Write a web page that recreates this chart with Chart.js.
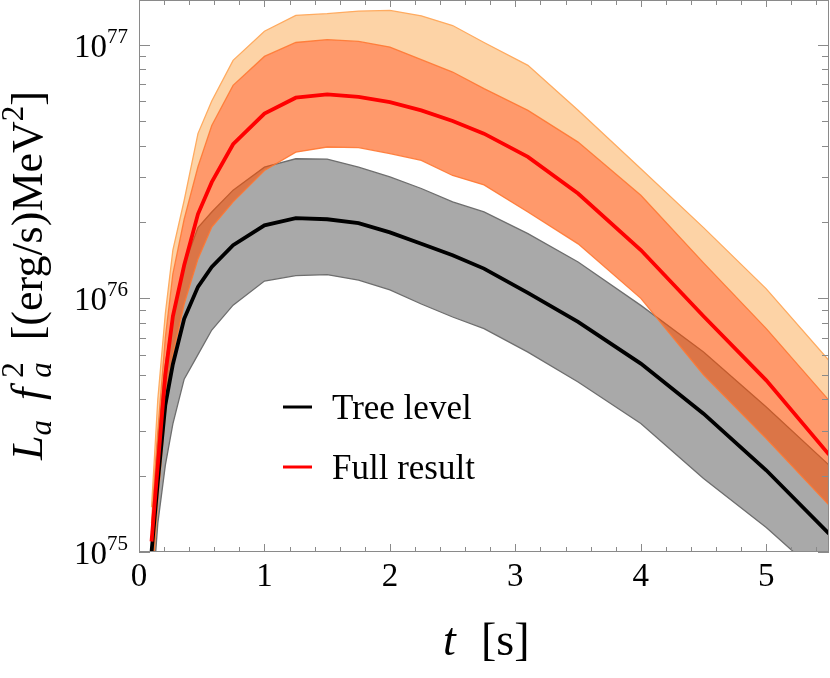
<!DOCTYPE html>
<html><head><meta charset="utf-8">
<script src="https://cdn.jsdelivr.net/npm/chart.js@4.4.1/dist/chart.umd.min.js"></script>
<style>html,body{margin:0;padding:0;background:#fff;overflow:hidden}canvas{display:block}</style>
</head><body>
<canvas id="c" width="830" height="678"></canvas>
<script>
// ---- data ----
const tSec = [0.1,0.15,0.21,0.27,0.36,0.47,0.58,0.75,1,1.25,1.5,1.75,2,2.25,2.5,2.75,3.1,3.5,4,4.5,5,5.5];
const treeLevel = [1.0e75,1.9e75,3.8e75,5.5e75,8.3e75,1.11e76,1.33e76,1.62e76,1.94e76,2.07e76,2.05e76,1.98e76,1.82e76,1.64e76,1.48e76,1.31e76,1.05e76,8.07e75,5.53e75,3.51e75,2.10e75,1.18e75];
const treeLow = [0.6e75,1.3e75,2.2e75,3.2e75,4.8e75,6.0e75,7.5e75,9.4e75,1.17e76,1.23e76,1.24e76,1.18e76,1.08e76,9.5e75,8.44e75,7.6e75,6.14e75,4.68e75,3.21e75,1.95e75,1.25e75,0.75e75];
const treeHigh = [1.2e75,2.8e75,5.5e75,8.5e75,1.35e76,1.9e76,2.19e76,2.67e76,3.29e76,3.55e76,3.54e76,3.29e76,3.01e76,2.71e76,2.40e76,2.19e76,1.80e76,1.39e76,9.38e75,6.14e75,3.73e75,2.20e75];
const fullResult = [1.1e75,2.2e75,5.0e75,8.5e75,1.35e76,2.15e76,2.87e76,4.05e76,5.35e76,6.18e76,6.37e76,6.22e76,5.94e76,5.51e76,5.0e76,4.46e76,3.61e76,2.59e76,1.55e76,8.5e75,4.75e75,2.42e75];
const fullLow = [0.7e75,1.6e75,3.5e75,6.0e75,9.5e75,1.43e76,1.91e76,2.40e76,3.19e76,3.77e76,3.95e76,3.93e76,3.72e76,3.5e76,3.05e76,2.8e76,2.19e76,1.64e76,1.0e76,5.0e75,2.8e75,1.53e75];
const fullHigh = [1.3e75,3.0e75,7.0e75,1.25e76,2.05e76,3.3e76,4.8e76,6.91e76,8.99e76,1.02e77,1.047e77,1.03e77,9.78e76,8.73e76,7.8e76,6.71e76,5.51e76,4.13e76,2.55e76,1.38e76,7.6e75,3.96e75];
const fullHighOuter = [1.5e75,4.0e75,8.7e75,1.55e76,2.43e76,4.46e76,6.0e76,8.67e76,1.13e77,1.305e77,1.325e77,1.356e77,1.365e77,1.30e77,1.19e77,1.02e77,8.29e76,5.51e76,3.24e76,1.9e76,1.09e76,5.69e75];

const seriesNames = ['Full result','Tree level'];
const xTickValues = [0,1,2,3,4,5];
const xTickLabels = ['0','1','2','3','4','5'];
const yTickValues = [1e75,1e76,1e77];
const yTickLabels = [['10','75'],['10','76'],['10','77']];

const pts = arr => arr.map((v,i)=>({x:tSec[i], y:v}));
const SERIF = '"Liberation Serif", "Times New Roman", serif';

const framePlugin = {
  id:'frame',
  afterDraw(chart){
    const {ctx, chartArea:a, scales:{x,y}} = chart;
    ctx.save();
    ctx.strokeStyle = '#8a8a8a'; ctx.lineWidth = 1;
    const line=(x1,y1,x2,y2)=>{ctx.beginPath();ctx.moveTo(x1,y1);ctx.lineTo(x2,y2);ctx.stroke();};
    ctx.strokeRect(a.left+0.5, a.top+0.5, a.right-a.left-1, a.bottom-a.top-1);
    for(let k=0;k<=30;k++){
      const v=k*0.2; if(v>x.max+1e-9) break;
      const px=Math.round(x.getPixelForValue(v))+0.5;
      const major=(k%5===0);
      line(px,a.bottom,px,a.bottom-(major?8:5));
      line(px,a.top,px,a.top+(major?7:5));
    }
    for(let n=75;n<=77;n++){
      for(let m=1;m<=9;m++){
        const v=m*Math.pow(10,n); if(v>y.max) break;
        const py=Math.round(y.getPixelForValue(v))+0.5;
        const L=(m===1)?11:7;
        line(a.left,py,a.left+L,py);
        line(a.right,py,a.right-L,py);
      }
    }
    // y tick labels (base with superscript exponent), placed by the y scale
    ctx.fillStyle='#000'; ctx.textBaseline='alphabetic';
    yTickValues.forEach((v,i)=>{
      const py=y.getPixelForValue(v);
      const [base,exp]=yTickLabels[i];
      ctx.font='21px '+SERIF; ctx.textAlign='right';
      ctx.fillText(exp, a.left-11, py-2);
      const ew=ctx.measureText(exp).width;
      ctx.font='33px '+SERIF;
      ctx.fillText(base, a.left-11-ew, py+12);
    });
    ctx.textAlign='left';
    // legend
    const ds = chart.data.datasets;
    const legendItems = [{d:ds[1], y:407}, {d:ds[0], y:467}];
    for(const it of legendItems){
      ctx.strokeStyle = it.d.borderColor; ctx.lineWidth = 3;
      line(283, it.y, 312, it.y);
      ctx.fillStyle='#000'; ctx.font = '35px '+SERIF;
      ctx.fillText(it.d.label, 332, it.y+12);
    }
    // x title
    ctx.fillStyle='#000';
    ctx.font='italic 46px '+SERIF; ctx.fillText('t', 443, 655);
    ctx.font='46px '+SERIF; ctx.fillText('[s]', 481, 655);
    // y title
    ctx.save();
    ctx.translate(42, 460); ctx.rotate(-Math.PI/2);
    const big='44px '+SERIF, bigI='italic 44px '+SERIF, sm='31px '+SERIF, smI='italic 31px '+SERIF;
    const parts=[
      {t:'L',f:bigI},{t:'a',f:smI,dy:9},{gap:20},
      {t:'f',f:bigI},{t:'2',f:sm,dy:-19,dx:10,noAdv:true},{t:'a',f:smI,dy:9,dx:10},{gap:22},
      {t:'[(erg/s)MeV',f:big},{t:'2',f:sm,dy:-19},{t:']',f:big}
    ];
    let cx=0;
    for(const p of parts){
      if(p.gap){cx+=p.gap;continue;}
      ctx.font=p.f;
      ctx.fillText(p.t, cx+(p.dx||0), p.dy||0);
      if(!p.noAdv) cx += ctx.measureText(p.t).width + (p.dx||0);
    }
    ctx.restore();
    ctx.restore();
  }
};

new Chart(document.getElementById('c'), {
  type:'line',
  data:{datasets:[
    {label:seriesNames[0], data:pts(fullResult), borderColor:'#ff0000', borderWidth:3.8, fill:false, order:0},
    {label:seriesNames[1], data:pts(treeLevel), borderColor:'#000000', borderWidth:3.8, fill:false, order:1},
    {label:'Full result (lower)', data:pts(fullLow), borderColor:'rgba(255,120,50,0.9)', borderWidth:1.3, fill:false, order:2},
    {label:'Full result (upper)', data:pts(fullHigh), borderColor:'rgba(255,120,50,0.9)', borderWidth:1.3, fill:{target:2}, backgroundColor:'rgba(255,80,0,0.58)', order:3},
    {label:'Tree level (lower)', data:pts(treeLow), borderColor:'#6e6e6e', borderWidth:1.3, fill:false, order:4},
    {label:'Tree level (upper)', data:pts(treeHigh), borderColor:'#6e6e6e', borderWidth:1.3, fill:{target:4}, backgroundColor:'#a9a9a9', order:5},
    {label:'Full result (outer upper)', data:pts(fullHighOuter), borderColor:'#ffab60', borderWidth:1.3, fill:{target:3}, backgroundColor:'#fdd3a6', order:6}
  ]},
  options:{
    responsive:false, animation:false, devicePixelRatio:1,
    layout:{autoPadding:false, padding:{top:0,right:1,left:0,bottom:0}},
    plugins:{legend:{display:false}, title:{display:false}, tooltip:{enabled:false}},
    elements:{line:{tension:0}, point:{radius:0, hoverRadius:0}},
    scales:{
      x:{type:'linear', min:0, max:5.5,
        afterBuildTicks:s=>{s.ticks=xTickValues.map(v=>({value:v}));},
        ticks:{callback:(v,i)=>xTickLabels[i], font:{family:SERIF,size:33}, color:'#000', padding:6, maxRotation:0, autoSkip:false},
        grid:{display:false, drawTicks:false}, border:{display:false},
        afterFit:s=>{s.height=126; s.paddingLeft=0; s.paddingRight=0; s.paddingTop=0; s.paddingBottom=0;}},
      y:{type:'logarithmic', min:1e75, max:1.5e77,
        afterBuildTicks:s=>{s.ticks=yTickValues.map(v=>({value:v}));},
        ticks:{display:false},
        grid:{display:false, drawTicks:false}, border:{display:false},
        afterFit:s=>{s.width=139; s.paddingLeft=0; s.paddingRight=0; s.paddingTop=0; s.paddingBottom=0;}}
    }
  },
  plugins:[framePlugin]
});
</script>
</body></html>
